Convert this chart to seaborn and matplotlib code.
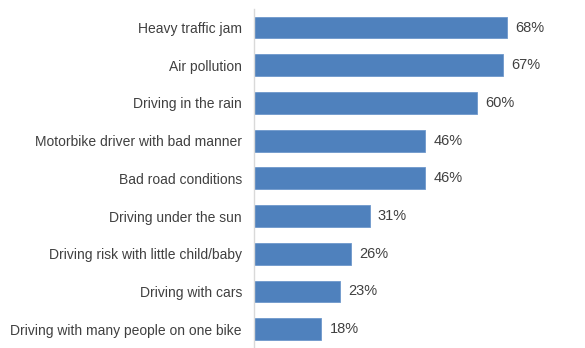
import matplotlib
matplotlib.use("Agg")
import matplotlib.pyplot as plt
import seaborn as sns
import pandas as pd

categories = [
    "Heavy traffic jam",
    "Air pollution",
    "Driving in the rain",
    "Motorbike driver with bad manner",
    "Bad road conditions",
    "Driving under the sun",
    "Driving risk with little child/baby",
    "Driving with cars",
    "Driving with many people on one bike",
]
values = [68, 67, 60, 46, 46, 31, 26, 23, 18]

df = pd.DataFrame({"category": categories, "value": values})

sns.set_theme(style="white")
plt.rcParams["font.family"] = ["Liberation Sans", "DejaVu Sans"]

fig = plt.figure(figsize=(5.85, 3.48), dpi=100)
ax = fig.add_axes([0.435, 0.0, 0.508, 0.975])

sns.barplot(data=df, x="value", y="category", color="#4F81BD", saturation=1,
            width=0.58, edgecolor="#6E98CC", linewidth=0.6, ax=ax)

ax.set_xlim(0, 80)
ax.set_ylim(len(categories) - 0.5, -0.5)
ax.set_xlabel("")
ax.set_ylabel("")
ax.set_xticks([])
ax.tick_params(axis="y", length=0, pad=9, labelsize=10, labelcolor="#404040")

for s in ["top", "right", "bottom"]:
    ax.spines[s].set_visible(False)
ax.spines["left"].set_color("#D9D9D9")
ax.spines["left"].set_linewidth(1.0)

for i, v in enumerate(values):
    ax.annotate(f"{v}%", xy=(v, i), xytext=(6, 0), textcoords="offset points",
                va="center", ha="left", fontsize=10.5, color="#404040")

fig.savefig("out.png", dpi=100)
